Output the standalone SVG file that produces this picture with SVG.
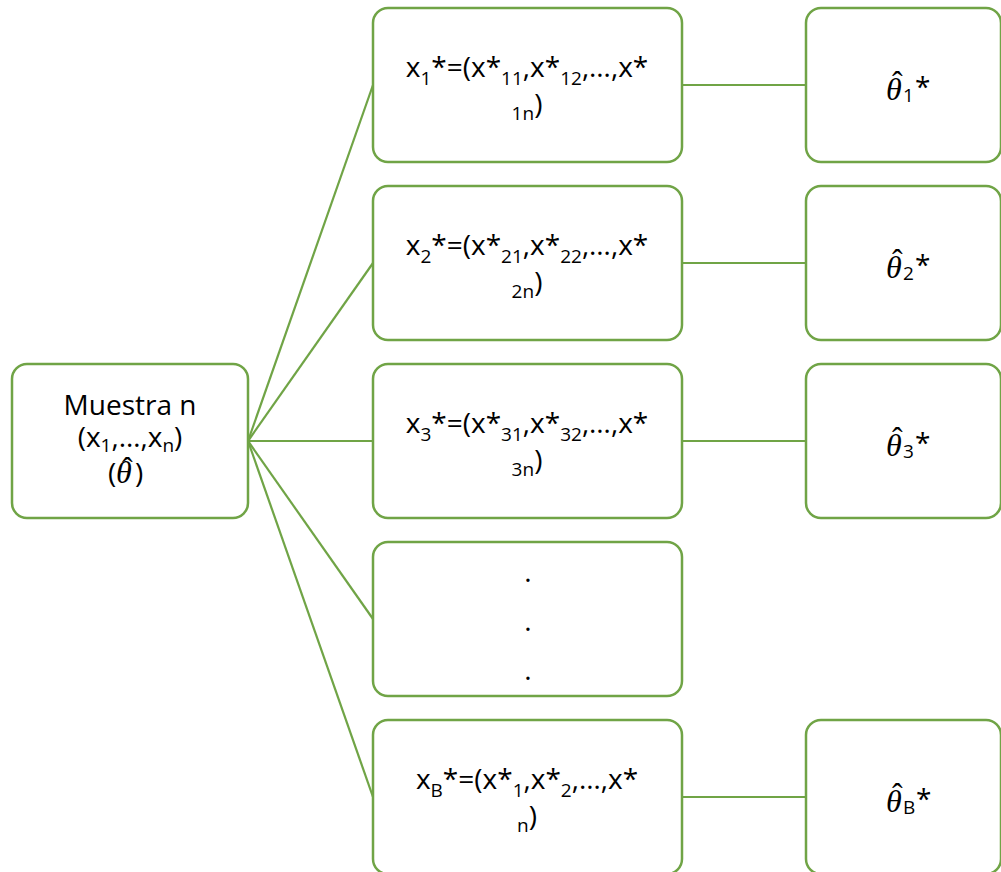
<svg xmlns="http://www.w3.org/2000/svg" width="1001" height="872" viewBox="0 0 1001 872">
  <style>
    .box { fill: #ffffff; stroke: #70a446; stroke-width: 2.5; }
    .edge { stroke: #70a446; stroke-width: 2.2; fill: none; }
    .t { font-family: "Open Sans", "Liberation Sans", sans-serif; font-size: 28px; fill: #000000; text-anchor: middle; }
    .l { text-anchor: start; }
    .sub { font-size: 19px; }
    .th { font-family: "Liberation Serif", "DejaVu Serif", serif; font-style: italic; font-size: 32px; }
    .hat { font-family: "Liberation Serif", "DejaVu Serif", serif; font-style: normal; font-size: 32px; }
  </style>
  <rect width="1001" height="872" fill="#ffffff"/>

  <!-- connectors: root fan-out and sample-to-estimate links -->
  <g id="connectors">
    <line class="edge" x1="248" y1="441" x2="373" y2="85"/>
    <line class="edge" x1="248" y1="441" x2="373" y2="263"/>
    <line class="edge" x1="248" y1="441" x2="373" y2="441"/>
    <line class="edge" x1="248" y1="441" x2="373" y2="619"/>
    <line class="edge" x1="248" y1="441" x2="373" y2="797"/>
    <line class="edge" x1="682" y1="85" x2="806" y2="85"/>
    <line class="edge" x1="682" y1="263" x2="806" y2="263"/>
    <line class="edge" x1="682" y1="441" x2="806" y2="441"/>
    <line class="edge" x1="682" y1="797" x2="806" y2="797"/>
  </g>

  <!-- original sample -->
  <g id="sample">
    <rect class="box" x="12" y="364" width="236" height="154" rx="15"/>
    <text class="t" x="130" y="415">Muestra n</text>
    <text class="t" x="130" y="447">(x<tspan class="sub" dy="5">1</tspan><tspan dy="-5">,…,x</tspan><tspan class="sub" dy="5">n</tspan><tspan dy="-5">)</tspan></text>
    <text class="t l"><tspan x="108" y="483">(</tspan><tspan class="th" font-size="26" x="116" y="483">θ</tspan><tspan x="135" y="483">)</tspan><tspan class="hat" font-size="28" x="122" y="479">ˆ</tspan></text>
  </g>

  <!-- bootstrap resamples -->
  <g id="resample1">
    <rect class="box" x="373" y="8" width="309" height="154" rx="15"/>
    <text class="t" x="527" y="77">x<tspan class="sub" dy="8">1</tspan><tspan dy="-8">*=(x*</tspan><tspan class="sub" dy="8">11</tspan><tspan dy="-8">,x*</tspan><tspan class="sub" dy="8">12</tspan><tspan dy="-8">,…,x*</tspan></text>
    <text class="t" x="527" y="114"><tspan class="sub" dy="6">1n</tspan><tspan dy="-6">)</tspan></text>
  </g>
  <g id="resample2">
    <rect class="box" x="373" y="186" width="309" height="154" rx="15"/>
    <text class="t" x="527" y="255">x<tspan class="sub" dy="8">2</tspan><tspan dy="-8">*=(x*</tspan><tspan class="sub" dy="8">21</tspan><tspan dy="-8">,x*</tspan><tspan class="sub" dy="8">22</tspan><tspan dy="-8">,…,x*</tspan></text>
    <text class="t" x="527" y="292"><tspan class="sub" dy="6">2n</tspan><tspan dy="-6">)</tspan></text>
  </g>
  <g id="resample3">
    <rect class="box" x="373" y="364" width="309" height="154" rx="15"/>
    <text class="t" x="527" y="433">x<tspan class="sub" dy="8">3</tspan><tspan dy="-8">*=(x*</tspan><tspan class="sub" dy="8">31</tspan><tspan dy="-8">,x*</tspan><tspan class="sub" dy="8">32</tspan><tspan dy="-8">,…,x*</tspan></text>
    <text class="t" x="527" y="470"><tspan class="sub" dy="6">3n</tspan><tspan dy="-6">)</tspan></text>
  </g>
  <g id="resample-ellipsis">
    <rect class="box" x="373" y="542" width="309" height="154" rx="15"/>
    <text class="t" x="528" y="582">.</text>
    <text class="t" x="528" y="631">.</text>
    <text class="t" x="528" y="680">.</text>
  </g>
  <g id="resampleB">
    <rect class="box" x="373" y="720" width="309" height="154" rx="15"/>
    <text class="t" x="527" y="789">x<tspan class="sub" dy="8">B</tspan><tspan dy="-8">*=(x*</tspan><tspan class="sub" dy="8">1</tspan><tspan dy="-8">,x*</tspan><tspan class="sub" dy="8">2</tspan><tspan dy="-8">,…,x*</tspan></text>
    <text class="t" x="527" y="826"><tspan class="sub" dy="6">n</tspan><tspan dy="-6">)</tspan></text>
  </g>

  <!-- bootstrap estimates -->
  <g id="estimate1">
    <rect class="box" x="806" y="8" width="195" height="154" rx="15"/>
    <text class="t l"><tspan class="th" x="886" y="100">θ</tspan><tspan class="sub" font-size="20" x="903" y="102">1</tspan><tspan x="915" y="97">*</tspan><tspan class="hat" x="892" y="93">ˆ</tspan></text>
  </g>
  <g id="estimate2">
    <rect class="box" x="806" y="186" width="195" height="154" rx="15"/>
    <text class="t l"><tspan class="th" x="886" y="278">θ</tspan><tspan class="sub" font-size="20" x="903" y="280">2</tspan><tspan x="915" y="275">*</tspan><tspan class="hat" x="892" y="271">ˆ</tspan></text>
  </g>
  <g id="estimate3">
    <rect class="box" x="806" y="364" width="195" height="154" rx="15"/>
    <text class="t l"><tspan class="th" x="886" y="456">θ</tspan><tspan class="sub" font-size="20" x="903" y="458">3</tspan><tspan x="915" y="453">*</tspan><tspan class="hat" x="892" y="449">ˆ</tspan></text>
  </g>
  <g id="estimateB">
    <rect class="box" x="806" y="720" width="195" height="154" rx="15"/>
    <text class="t l"><tspan class="th" x="886" y="812">θ</tspan><tspan class="sub" font-size="20" x="903" y="814">B</tspan><tspan x="916" y="809">*</tspan><tspan class="hat" x="892" y="805">ˆ</tspan></text>
  </g>
</svg>
